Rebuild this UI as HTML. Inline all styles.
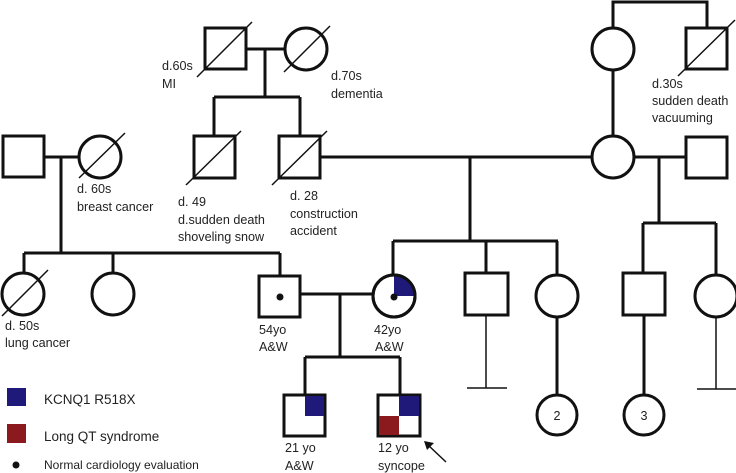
<!DOCTYPE html>
<html><head><meta charset="utf-8"><style>body{margin:0;background:#fff}svg{display:block}text{font-family:"Liberation Sans",sans-serif;font-size:12.6px;fill:#222}</style></head><body>
<svg width="736" height="473" viewBox="0 0 736 473" xmlns="http://www.w3.org/2000/svg">
<g fill="none" stroke="#111" stroke-width="3">
<rect x="205" y="28" width="41" height="41" fill="#fff"/>
<circle cx="306" cy="49" r="21" fill="#fff"/>
<path d="M246 49H285M265 49V97M214 97H300M214 97V136M300 97V136"/>
<rect x="194" y="136" width="41" height="42" fill="#fff"/>
<rect x="279" y="136" width="41" height="42" fill="#fff"/>
<rect x="3" y="136" width="41" height="41" fill="#fff"/>
<circle cx="100" cy="157" r="21" fill="#fff"/>
<path d="M44 157H79M61 157V253M24 253H280M24 253V273M113 253V273M280 253V276"/>
<circle cx="23" cy="294" r="21" fill="#fff"/>
<circle cx="113" cy="294" r="21" fill="#fff"/>
<rect x="259" y="276" width="41" height="41" fill="#fff"/>
<path d="M300 294H373M340 294V357M305 357H400M305 357V395M400 357V395"/>
<path d="M320 157H591M470 157V241M393 241H558M393 241V275M486 241V273M557 241V275"/>
<circle cx="394" cy="296" r="21" fill="#fff"/>
<rect x="465" y="273" width="43" height="42" fill="#fff"/>
<circle cx="557" cy="296" r="21" fill="#fff"/>
<path d="M557 317V395"/>
<circle cx="557" cy="415" r="20" fill="#fff"/>
<path d="M613 28V2H707V28M613 70V136M634 157H686M659 157V223M643 223H716M643 223V273M716 223V275M644 315V395"/>
<circle cx="613" cy="49" r="21" fill="#fff"/>
<rect x="686" y="28" width="41" height="41" fill="#fff"/>
<circle cx="613" cy="157" r="21" fill="#fff"/>
<rect x="686" y="137" width="41" height="41" fill="#fff"/>
<rect x="623" y="273" width="42" height="42" fill="#fff"/>
<circle cx="716" cy="296" r="21" fill="#fff"/>
<circle cx="644" cy="415" r="20" fill="#fff"/>
</g>
<g stroke="#111" stroke-width="1.5" fill="none">
<path d="M197 77L252 22M284 72L330 26M186 185L241 131M272 185L327 131M79 178L125 133M2 316L48 270M678 76L735 20M486 315V388M467 388H507M716 317V389M697 389H736M446 462L428 445"/>
</g>
<path d="M424 441L434 443L427 450Z" fill="#111"/>
<path d="M394 296V276A20 20 0 0 1 414 296Z" fill="#1f1a7a"/>
<circle cx="394" cy="296" r="21" fill="none" stroke="#111" stroke-width="3"/>
<circle cx="394" cy="297" r="3.5" fill="#111"/>
<circle cx="280" cy="297" r="3.5" fill="#111"/>
<rect x="284" y="395" width="41" height="41" fill="#fff" stroke="#111" stroke-width="3"/>
<rect x="305" y="396" width="19" height="20" fill="#1f1a7a"/>
<rect x="378" y="395" width="42" height="41" fill="#fff" stroke="#111" stroke-width="3"/>
<rect x="399" y="396" width="20" height="20" fill="#1f1a7a"/>
<rect x="379" y="416" width="20" height="19" fill="#8b1a1f"/>
<rect x="7" y="388" width="19" height="18" fill="#1f1a7a"/>
<rect x="7" y="424" width="19" height="19" fill="#8b1a1f"/>
<circle cx="16" cy="465" r="3.5" fill="#111"/>
<text x="44" y="404" style="font-size:13.5px">KCNQ1 R518X</text>
<text x="44" y="441" style="font-size:13.5px">Long QT syndrome</text>
<text x="44" y="469" style="font-size:12px">Normal cardiology evaluation</text>
<text x="162" y="70">d.60s</text><text x="162" y="88">MI</text>
<text x="331" y="80">d.70s</text><text x="331" y="98">dementia</text>
<text x="77" y="193">d. 60s</text><text x="77" y="211">breast cancer</text>
<text x="178" y="206">d. 49</text><text x="178" y="224">d.sudden death</text><text x="178" y="241">shoveling snow</text>
<text x="290" y="200">d. 28</text><text x="290" y="218">construction</text><text x="290" y="235">accident</text>
<text x="652" y="88">d.30s</text><text x="652" y="105">sudden death</text><text x="652" y="122">vacuuming</text>
<text x="5" y="330">d. 50s</text><text x="5" y="347">lung cancer</text>
<text x="259" y="334">54yo</text><text x="259" y="351">A&amp;W</text>
<text x="374" y="334">42yo</text><text x="375" y="351">A&amp;W</text>
<text x="285" y="452">21 yo</text><text x="285" y="470">A&amp;W</text>
<text x="378" y="452">12 yo</text><text x="378" y="470">syncope</text>
<text x="557" y="420" text-anchor="middle">2</text>
<text x="644" y="420" text-anchor="middle">3</text>
</svg>
</body></html>
